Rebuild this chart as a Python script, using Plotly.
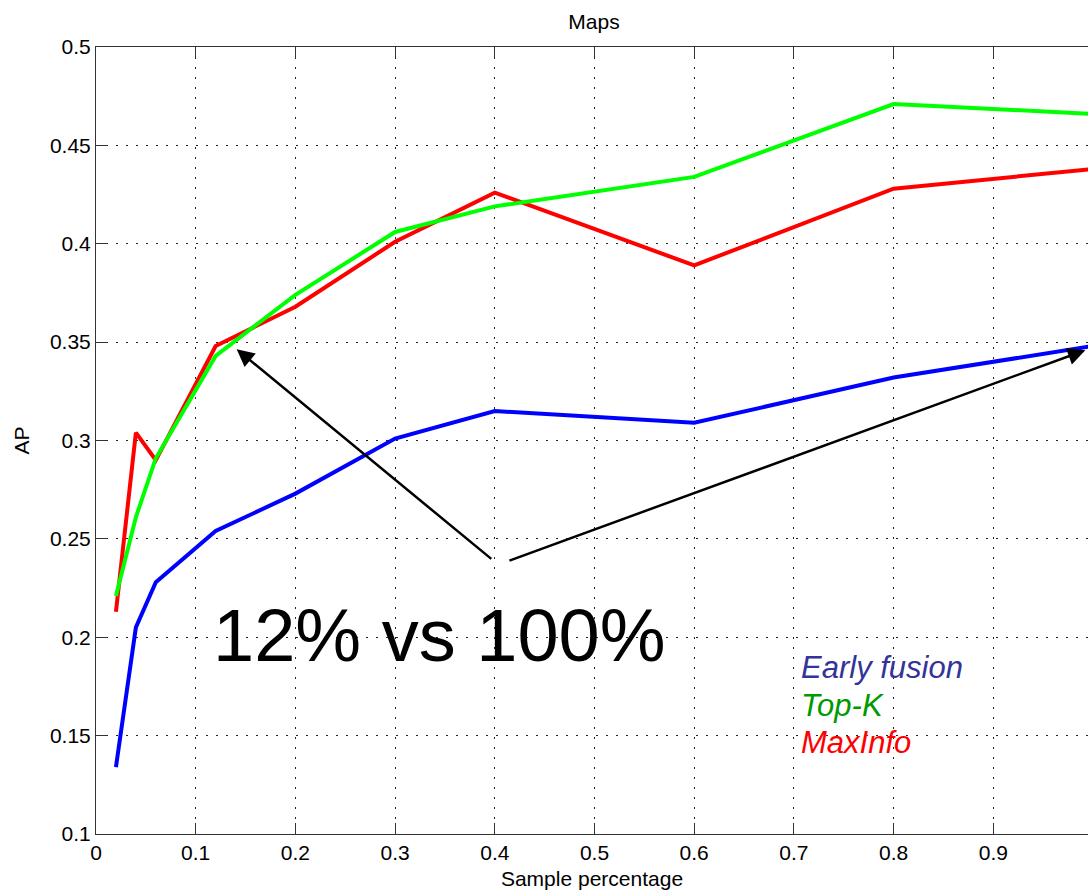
import plotly.graph_objects as go

# ---- data ----
sample_pct = [0.02, 0.04, 0.06, 0.12, 0.2, 0.3, 0.4, 0.6, 0.8, 1.0]
early_fusion = [0.134, 0.205, 0.228, 0.254, 0.273, 0.301, 0.315, 0.309, 0.332, 0.348]
top_k = [0.221, 0.261, 0.291, 0.343, 0.374, 0.406, 0.419, 0.434, 0.471, 0.466]
max_info = [0.213, 0.304, 0.290, 0.348, 0.368, 0.401, 0.426, 0.389, 0.428, 0.438]

x_tick_vals = [0, 0.1, 0.2, 0.3, 0.4, 0.5, 0.6, 0.7, 0.8, 0.9]
x_tick_text = ["0", "0.1", "0.2", "0.3", "0.4", "0.5", "0.6", "0.7", "0.8", "0.9"]
y_tick_vals = [0.1, 0.15, 0.2, 0.25, 0.3, 0.35, 0.4, 0.45, 0.5]
y_tick_text = ["0.1", "0.15", "0.2", "0.25", "0.3", "0.35", "0.4", "0.45", "0.5"]

FONT = "Liberation Sans, Arial, sans-serif"

fig = go.Figure()
fig.add_trace(go.Scatter(x=sample_pct, y=early_fusion, mode="lines",
                         line=dict(color="#0000ff", width=4), name="Early fusion"))
fig.add_trace(go.Scatter(x=sample_pct, y=max_info, mode="lines",
                         line=dict(color="#ff0000", width=4), name="MaxInfo"))
fig.add_trace(go.Scatter(x=sample_pct, y=top_k, mode="lines",
                         line=dict(color="#00ff00", width=4), name="Top-K"))

axis_common = dict(
    showgrid=True, gridcolor="#222222", gridwidth=1, griddash="1.5px,8.5px",
    showline=True, linecolor="#333333", linewidth=1,
    ticks="inside", ticklen=11, tickcolor="#333333", tickwidth=1,
    tickfont=dict(family=FONT, size=21, color="#000000"),
    zeroline=False,
)

fig.update_xaxes(range=[0, 0.995], tickvals=x_tick_vals, ticktext=x_tick_text,
                 mirror="ticks",
                 title=dict(text="Sample percentage", font=dict(family=FONT, size=21, color="#000"),
                            standoff=8),
                 **axis_common)
fig.update_yaxes(range=[0.1, 0.5], tickvals=y_tick_vals, ticktext=y_tick_text,
                 mirror=False,
                 title=dict(text="AP", font=dict(family=FONT, size=21, color="#000"),
                            standoff=14),
                 **axis_common)

annotations = [
    dict(x=0.1411, y=0.3464, ax=0.398, ay=0.2392, xref="x", yref="y", axref="x", ayref="y",
         text="", showarrow=True, arrowhead=2, arrowsize=1.4, arrowwidth=2.5, arrowcolor="#000"),
    dict(x=0.9923, y=0.3459, ax=0.4132, ay=0.2387, xref="x", yref="y", axref="x", ayref="y",
         text="", showarrow=True, arrowhead=2, arrowsize=1.4, arrowwidth=2.5, arrowcolor="#000"),
    dict(x=0.115, y=0.2007, xref="x", yref="y", text="12% vs 100%", showarrow=False,
         xanchor="left", yanchor="middle", font=dict(family=FONT, size=74, color="#000")),
    dict(x=0.705, y=0.1848, xref="x", yref="y", text="Early fusion", showarrow=False,
         xanchor="left", yanchor="middle",
         font=dict(family=FONT, size=31, color="#333399", style="italic")),
    dict(x=0.705, y=0.1651, xref="x", yref="y", text="Top-K", showarrow=False,
         xanchor="left", yanchor="middle",
         font=dict(family=FONT, size=31, color="#009900", style="italic")),
    dict(x=0.705, y=0.1463, xref="x", yref="y", text="MaxInfo", showarrow=False,
         xanchor="left", yanchor="middle",
         font=dict(family=FONT, size=31, color="#ff0000", style="italic")),
]

fig.update_layout(
    width=1088, height=892,
    margin=dict(l=96, r=0, t=47, b=58),
    paper_bgcolor="white", plot_bgcolor="white",
    showlegend=False,
    title=dict(text="Maps", x=594 / 1088, xanchor="center", y=1 - 22 / 892, yanchor="middle",
               font=dict(family=FONT, size=21, color="#000")),
    annotations=annotations,
)

fig.write_html("out.html")
